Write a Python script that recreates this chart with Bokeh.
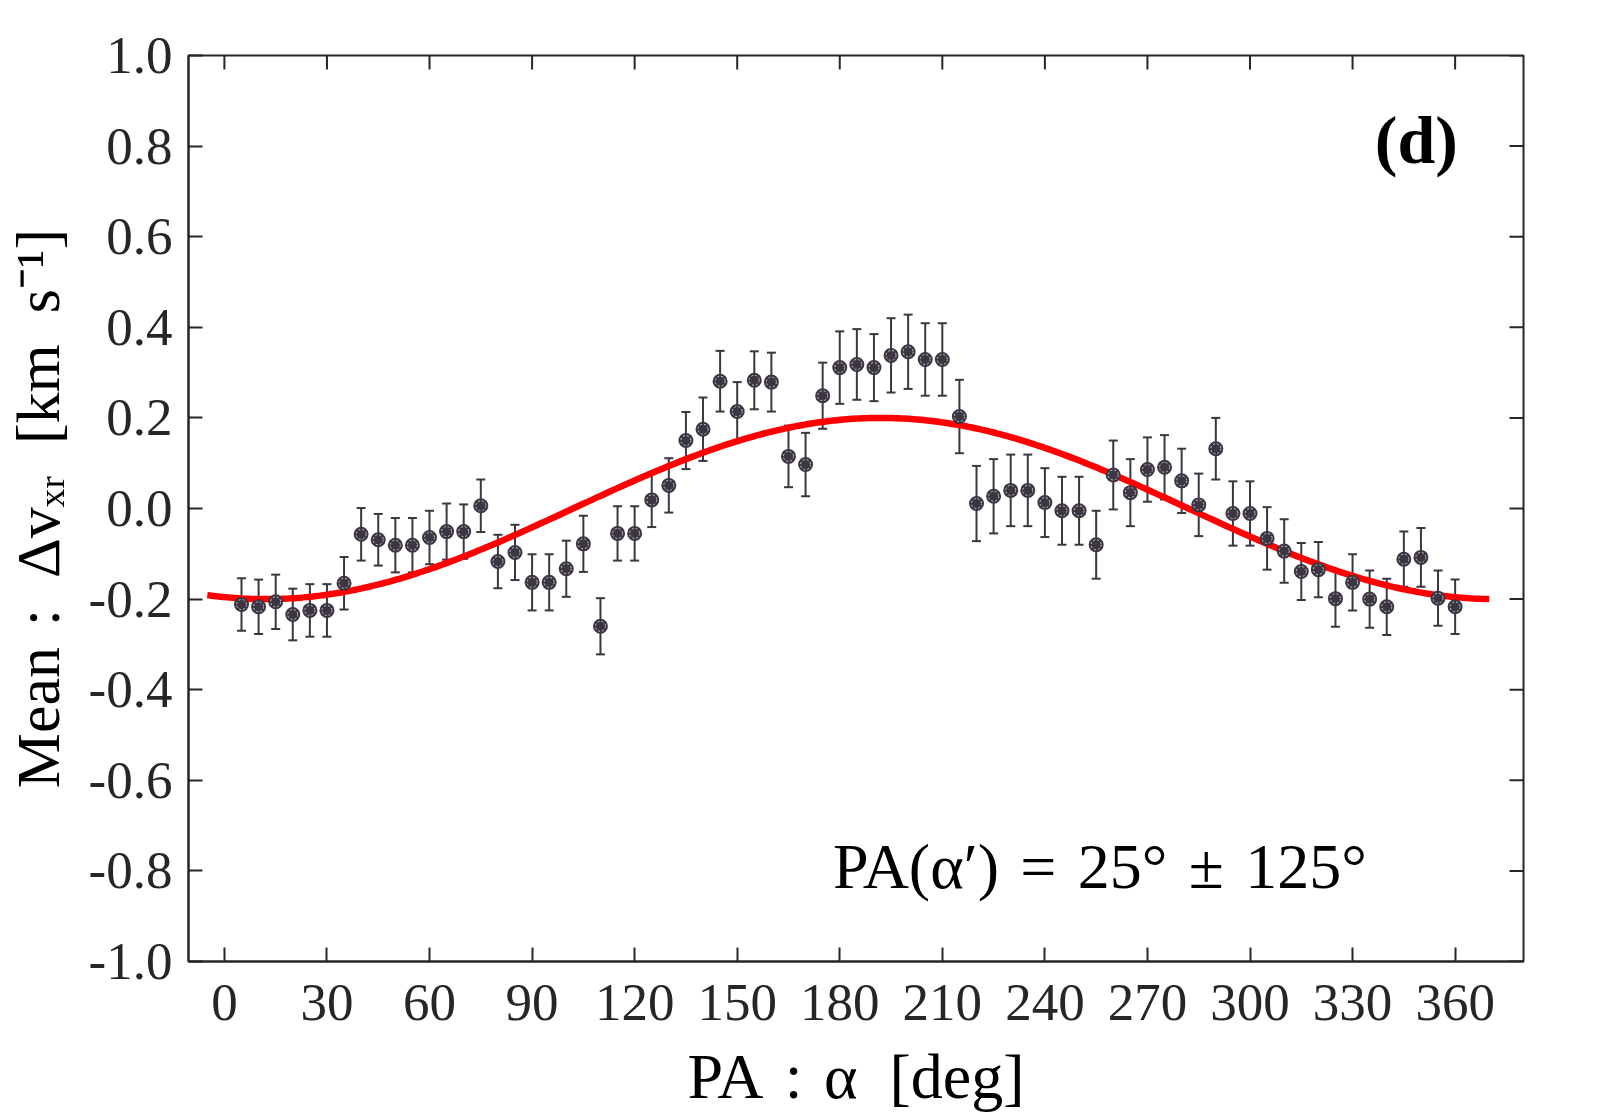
import numpy as np
from bokeh.plotting import figure
from bokeh.models import (Range1d, FixedTicker, PrintfTickFormatter,
                          Whisker, TeeHead, ColumnDataSource, Label)
from bokeh.embed import file_html
from bokeh.resources import INLINE

# ---- data ----
pa_deg = [5, 10, 15, 20, 25, 30, 35, 40, 45, 50, 55, 60, 65, 70, 75, 80, 85, 90,
          95, 100, 105, 110, 115, 120, 125, 130, 135, 140, 145, 150, 155, 160, 165, 170,
          175, 180, 185, 190, 195, 200, 205, 210, 215, 220, 225, 230, 235, 240, 245, 250,
          255, 260, 265, 270, 275, 280, 285, 290, 295, 300, 305, 310, 315, 320, 325, 330,
          335, 340, 345, 350, 355, 360]
mean_dv = [-0.212, -0.217, -0.206, -0.234, -0.225, -0.225, -0.165,
           -0.057, -0.069, -0.081, -0.081, -0.064, -0.051, -0.051, 0.006,
           -0.117, -0.097, -0.163, -0.163, -0.133, -0.078, -0.260, -0.055,
           -0.055, 0.019, 0.051, 0.150, 0.175, 0.281, 0.214, 0.283, 0.279, 0.115, 0.097, 0.249,
           0.311, 0.318, 0.311, 0.338, 0.346, 0.329, 0.329, 0.203,
           0.011, 0.027, 0.040, 0.040, 0.013, -0.005, -0.005, -0.080,
           0.074, 0.035, 0.086, 0.091, 0.061, 0.008, 0.132, -0.011,
           -0.011, -0.066, -0.094, -0.139, -0.135, -0.199, -0.163, -0.200,
           -0.217, -0.112, -0.108, -0.198, -0.217]
err_dv = [0.058, 0.060, 0.060, 0.057, 0.058, 0.058, 0.058,
          0.058, 0.057, 0.060, 0.060, 0.059, 0.062, 0.060, 0.058,
          0.059, 0.061, 0.062, 0.062, 0.062, 0.062, 0.062, 0.060,
          0.060, 0.060, 0.060, 0.063, 0.070, 0.067, 0.065, 0.064, 0.065, 0.068, 0.070, 0.073,
          0.080, 0.078, 0.074, 0.082, 0.082, 0.080, 0.080, 0.081,
          0.083, 0.082, 0.079, 0.079, 0.076, 0.075, 0.075, 0.075,
          0.076, 0.074, 0.071, 0.071, 0.071, 0.069, 0.068, 0.071,
          0.071, 0.069, 0.070, 0.063, 0.061, 0.062, 0.062, 0.063,
          0.062, 0.061, 0.065, 0.061, 0.060]

# sinusoidal fit result (amplitude, phase of maximum) and its drawn span
fit_amplitude = 0.2
fit_phase_deg = 192.0
fit_span = [-5.0, 370.0]

x_ticks = [0, 30, 60, 90, 120, 150, 180, 210, 240, 270, 300, 330, 360]
y_ticks = [-1.0, -0.8, -0.6, -0.4, -0.2, 0.0, 0.2, 0.4, 0.6, 0.8, 1.0]
x_lim = (-10.5, 380.0)
y_lim = (-1.0, 1.0)

FONT = "Liberation Serif"
AX = "#262626"
DOT = "#3b3641"

upper = [m + e for m, e in zip(mean_dv, err_dv)]
lower = [m - e for m, e in zip(mean_dv, err_dv)]
src = ColumnDataSource(dict(x=pa_deg, y=mean_dv, up=upper, lo=lower))

fx = np.linspace(fit_span[0], fit_span[1], 400)
fy = fit_amplitude * np.cos(np.deg2rad(fx - fit_phase_deg))

p = figure(frame_width=1335, frame_height=906,
           min_border_left=170, min_border_right=75, min_border_top=55, min_border_bottom=143,
           x_range=Range1d(*x_lim), y_range=Range1d(*y_lim),
           output_backend="svg", toolbar_location=None)
p.grid.visible = False
p.outline_line_color = AX
p.outline_line_width = 2
p.background_fill_color = "white"
p.border_fill_color = "white"

p.line(fx, fy, line_color="#ff0000", line_width=6.5)

wh = Whisker(source=src, base="x", upper="up", lower="lo", dimension="height",
             line_color=DOT, line_width=2,
             upper_head=TeeHead(size=9, line_color=DOT, line_width=2),
             lower_head=TeeHead(size=9, line_color=DOT, line_width=2))
p.add_layout(wh)
p.scatter("x", "y", source=src, size=15, fill_color=DOT, line_color=None)
p.scatter("x", "y", source=src, size=10, fill_color=None, line_color="#c9c6cc",
          line_width=1, line_dash="2 2")

# inward tick marks on the top and right edges of the box (clipped to the frame)
p.scatter(x_ticks, [y_lim[1]] * len(x_ticks), marker="dash", angle=np.pi / 2,
          size=28, line_color=AX, line_width=2)
p.scatter([x_lim[1]] * len(y_ticks), y_ticks, marker="dash",
          size=28, line_color=AX, line_width=2)

def style(ax, standoff):
    ax.axis_line_color = AX
    ax.axis_line_width = 2
    ax.major_tick_line_color = AX
    ax.major_tick_line_width = 2
    ax.major_tick_in = 14
    ax.major_tick_out = 0
    ax.minor_tick_line_color = None
    ax.major_label_text_font = FONT
    ax.major_label_text_color = AX
    ax.major_label_text_font_size = "53px"
    ax.major_label_standoff = standoff

xax = p.xaxis[0]
xax.ticker = FixedTicker(ticks=x_ticks)
xax.formatter = PrintfTickFormatter(format="%d")
style(xax, 23)
xax.axis_label = "PA\u2004:\u2004α\u2002[deg]"
xax.axis_label_text_font = FONT
xax.axis_label_text_font_size = "64px"
xax.axis_label_text_font_style = "normal"
xax.axis_label_text_color = "black"
xax.axis_label_standoff = 18

yax = p.yaxis[0]
yax.ticker = FixedTicker(ticks=y_ticks)
yax.formatter = PrintfTickFormatter(format="%.1f")
style(yax, 16)
yax.axis_label = "Mean\u2004:\u2002Δvₓᵣ\u2002[km\u2002s⁻¹]"
yax.axis_label_text_font = FONT
yax.axis_label_text_font_size = "62px"
yax.axis_label_text_font_style = "normal"
yax.axis_label_text_color = "black"
yax.axis_label_standoff = 14

p.add_layout(Label(x=178, y=-0.79, text="PA(α′)\u2004=\u200425°\u2004±\u2004125°",
                   text_font=FONT, text_font_size="64px", text_color="black",
                   text_baseline="alphabetic"))
p.add_layout(Label(x=336.5, y=0.813, text="(d)", text_font=FONT, text_font_size="68px",
                   text_font_style="bold", text_color="black", text_baseline="alphabetic"))

open("out.html", "w").write(file_html(p, INLINE))
